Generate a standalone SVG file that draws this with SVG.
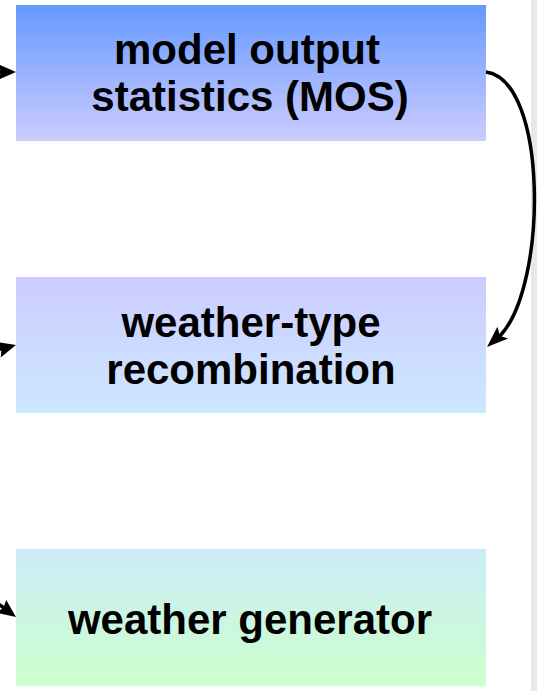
<svg xmlns="http://www.w3.org/2000/svg" width="537" height="691" viewBox="0 0 537 691">
<defs>
<linearGradient id="g1" x1="0" y1="0" x2="0" y2="1"><stop offset="0" stop-color="#6699ff"/><stop offset="1" stop-color="#ccccff"/></linearGradient>
<linearGradient id="g2" x1="0" y1="0" x2="0" y2="1"><stop offset="0" stop-color="#ccccff"/><stop offset="1" stop-color="#cce8ff"/></linearGradient>
<linearGradient id="g3" x1="0" y1="0" x2="0" y2="1"><stop offset="0" stop-color="#ccecf8"/><stop offset="1" stop-color="#ccffcc"/></linearGradient>
</defs>
<style>
.lbl{font-family:"Liberation Sans",Arial,sans-serif;font-weight:bold;font-size:42px;fill:#000;text-anchor:middle}
.con{fill:none;stroke:#000;stroke-width:3.5}
.head{fill:#000;stroke:none}
</style>
<rect x="0" y="0" width="537" height="691" fill="#fff"/>
<rect x="531" y="0" width="6" height="691" fill="#e8e8e8"/>
<g id="mos">
<rect x="16" y="5" width="470" height="136" fill="url(#g1)"/>
<text class="lbl" x="247" y="64">model output</text>
<text class="lbl" x="250" y="111">statistics (MOS)</text>
</g>
<g id="wtr">
<rect x="16" y="277" width="470" height="136" fill="url(#g2)"/>
<text class="lbl" x="251" y="337">weather-type</text>
<text class="lbl" x="251" y="384">recombination</text>
</g>
<g id="wg">
<rect x="16" y="549" width="470" height="137" fill="url(#g3)"/>
<text class="lbl" x="250" y="634">weather generator</text>
</g>
<g id="connectors">
<path class="con" d="M-10,72 L2,72"/>
<polygon class="head" points="16,72 -2,64 1,72 -2,80"/>
<path class="con" d="M-10,352 L2,348.5"/>
<polygon class="head" points="16,345 0.7,357.4 1.5,349 -3.5,342"/>
<path class="con" d="M-10,598 L4,608"/>
<polygon class="head" points="16,617 -3.2,612.9 3.5,607.5 6.2,599.9"/>
<path class="con" d="M486,72 C548,80 548,285 500,336"/>
<polygon class="head" points="487,347 497.4,326.7 500,336 508.2,338.5"/>
</g>
</svg>
